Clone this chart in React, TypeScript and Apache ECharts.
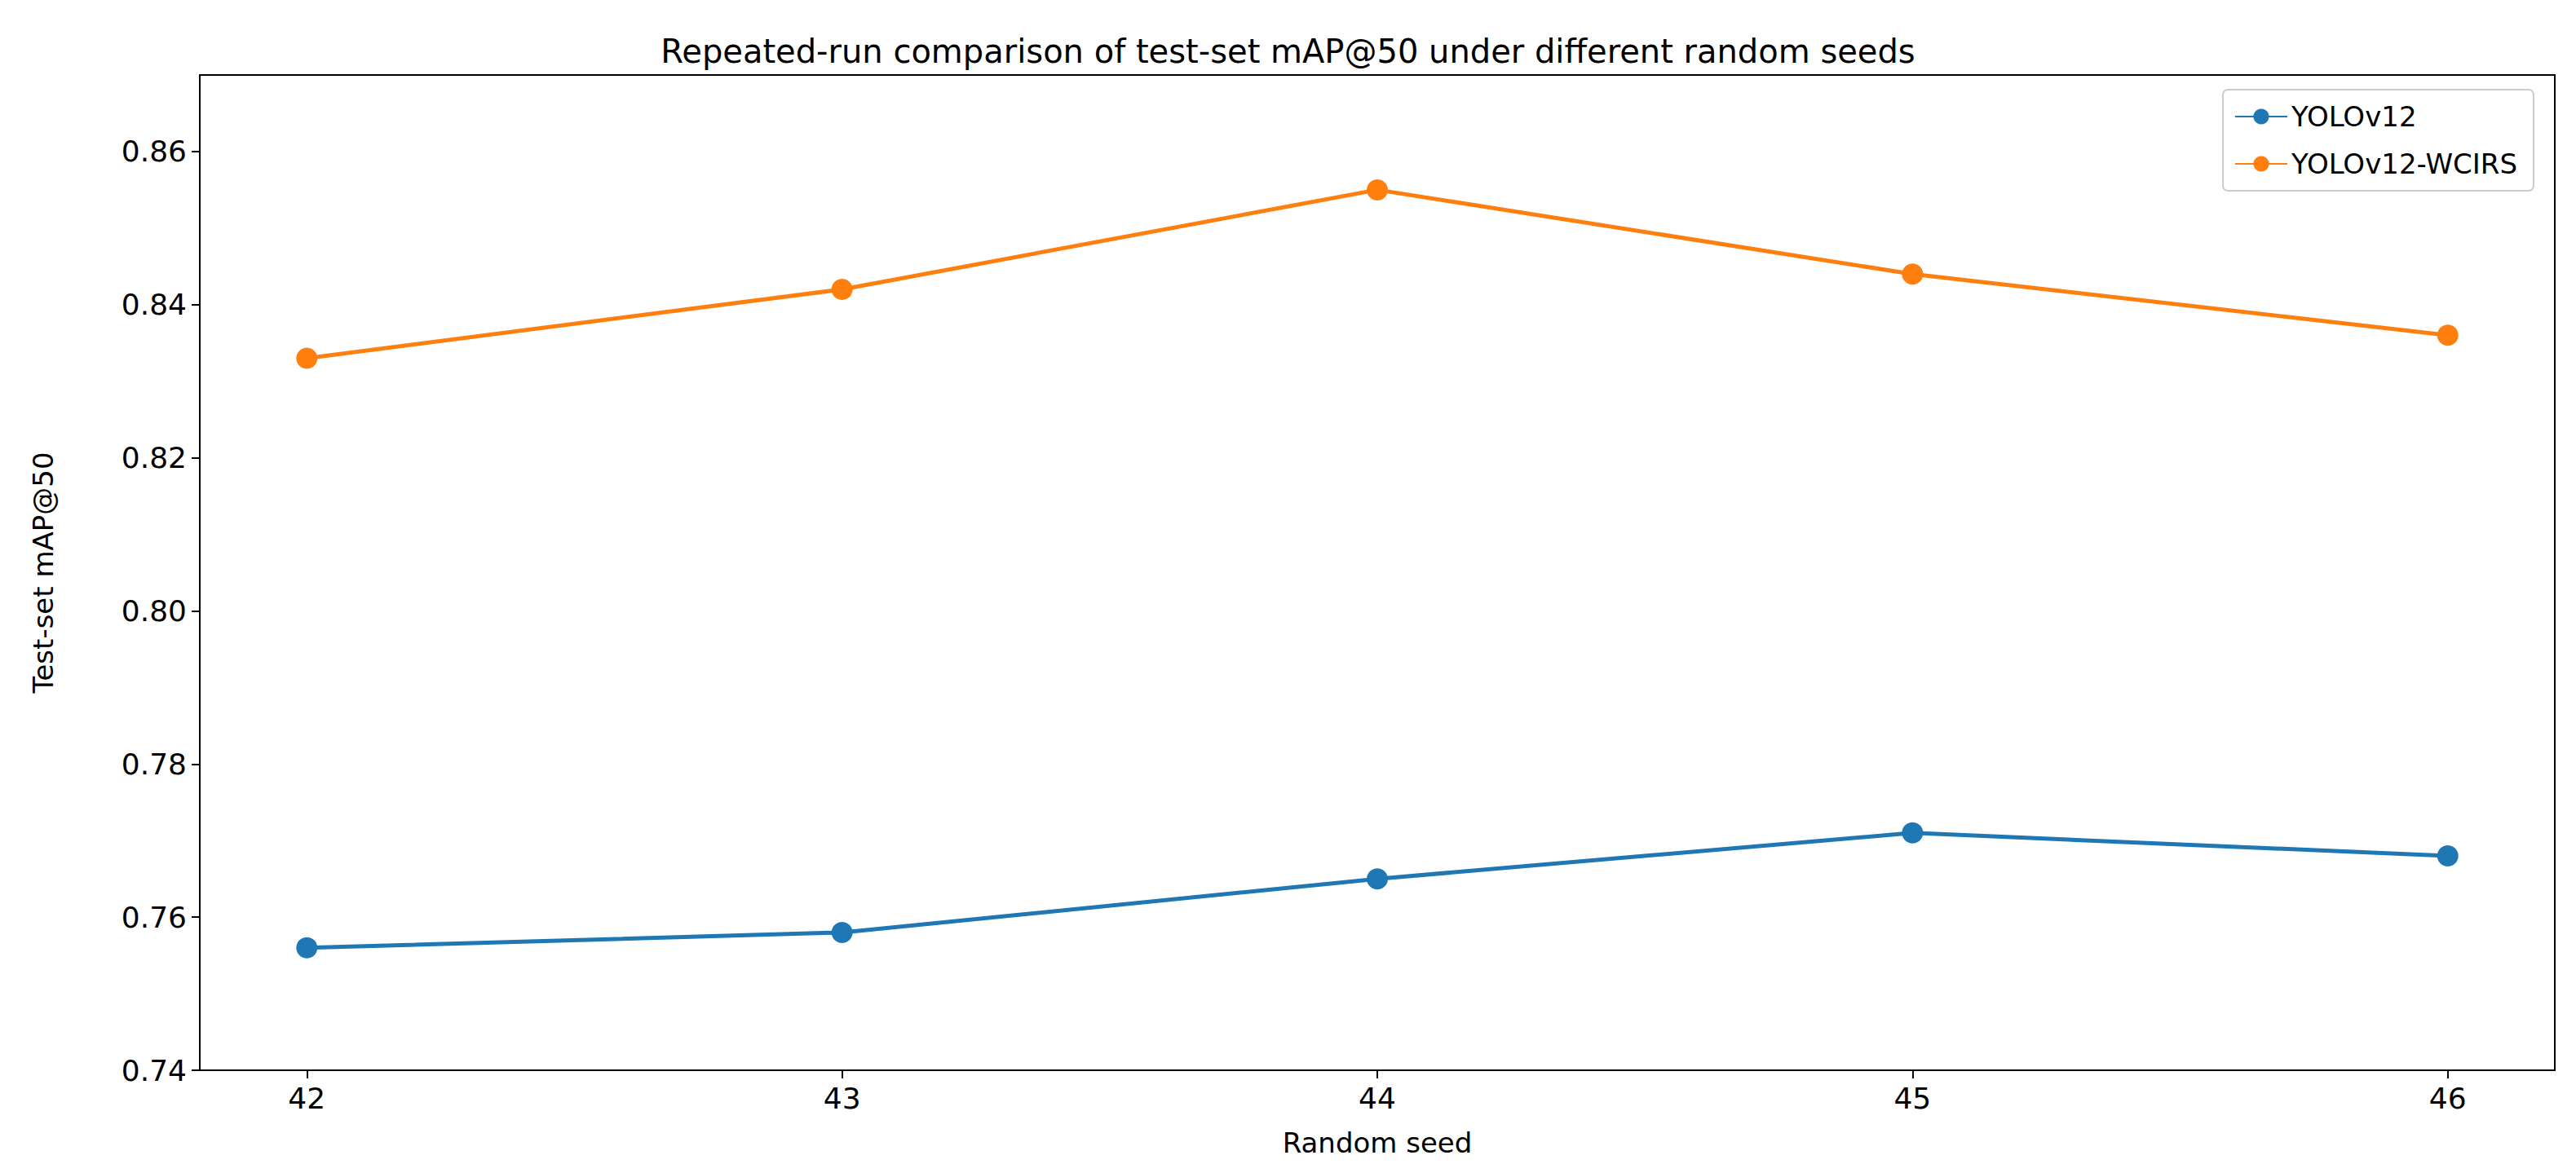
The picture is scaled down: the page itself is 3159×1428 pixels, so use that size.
import { useEffect, useRef } from "react";
import * as echarts from "echarts";

const seeds = [42, 43, 44, 45, 46];
const yolo = [0.756, 0.758, 0.765, 0.771, 0.768];
const wcirs = [0.833, 0.842, 0.855, 0.844, 0.836];
const gains = ["+0.077", "+0.084", "+0.090", "+0.073", "+0.068"];
const yTicks = [0.74, 0.76, 0.78, 0.8, 0.82, 0.84, 0.86];

const font = "DejaVu Sans";
const axisLine = { show: true, lineStyle: { color: "#000", width: 2 } };

const App = () => {
  const chartRef = useRef(null);

  useEffect(() => {
    document.body.style.margin = "0";
    if (!chartRef.current) return;
    const chart = echarts.init(chartRef.current, null, { renderer: "svg" });
    chart.setOption({
      animation: false,
      backgroundColor: "#fff",
      textStyle: { fontFamily: font },
      title: {
        text: "Repeated-run comparison of test-set mAP@50 under different random seeds",
        left: "center",
        top: 38,
        textStyle: { fontFamily: font, fontSize: 40, fontWeight: "normal", color: "#000" },
      },
      legend: {
        top: 110,
        right: 52,
        orient: "vertical",
        itemWidth: 64,
        itemHeight: 24,
        itemGap: 24,
        padding: [16, 20, 16, 14],
        borderColor: "#ccc",
        borderWidth: 2,
        borderRadius: 6,
        textStyle: { fontFamily: font, fontSize: 34, color: "#000" },
        data: ["YOLOv12", "YOLOv12-WCIRS"],
      },
      grid: { left: 245, right: 26, top: 92, bottom: 115 },
      xAxis: [
        {
          type: "value",
          min: 41.8,
          max: 46.2,
          name: "Random seed",
          nameLocation: "middle",
          nameGap: 72,
          nameTextStyle: { fontFamily: font, fontSize: 34, color: "#000" },
          splitLine: { show: false },
          axisLine,
          axisTick: { show: true, customValues: seeds, length: 10, lineStyle: { color: "#000", width: 2 } },
          axisLabel: { customValues: seeds, fontFamily: font, fontSize: 36, color: "#000", margin: 16 },
        },
        {
          type: "value",
          position: "top",
          min: 41.8,
          max: 46.2,
          splitLine: { show: false },
          axisLine,
          axisTick: { show: false },
          axisLabel: { show: false },
        },
      ],
      yAxis: [
        {
          type: "value",
          min: 0.74,
          max: 0.87,
          name: "Test-set mAP@50",
          nameLocation: "middle",
          nameGap: 175,
          nameTextStyle: { fontFamily: font, fontSize: 34, color: "#000" },
          splitLine: { show: false },
          axisLine,
          axisTick: { show: true, customValues: yTicks, length: 10, lineStyle: { color: "#000", width: 2 } },
          axisLabel: {
            customValues: yTicks,
            fontFamily: font,
            fontSize: 36,
            color: "#000",
            margin: 16,
            formatter: (v) => v.toFixed(2),
          },
        },
        {
          type: "value",
          position: "right",
          min: 0.74,
          max: 0.87,
          splitLine: { show: false },
          axisLine,
          axisTick: { show: false },
          axisLabel: { show: false },
        },
      ],
      series: [
        {
          name: "YOLOv12",
          type: "line",
          data: seeds.map((s, i) => [s, yolo[i]]),
          color: "#1f77b4",
          lineStyle: { width: 5 },
          symbol: "circle",
          symbolSize: 26,
        },
        {
          name: "YOLOv12-WCIRS",
          type: "line",
          data: seeds.map((s, i) => [s, wcirs[i]]),
          color: "#ff7f0e",
          lineStyle: { width: 5 },
          symbol: "circle",
          symbolSize: 26,
        },
        {
          name: "gain",
          type: "scatter",
          symbol: "circle",
          symbolSize: 2,
          itemStyle: { opacity: 0 },
          data: seeds.map((s, i) => ({
            value: [s, (yolo[i] + wcirs[i]) / 2],
            label: { formatter: gains[i] },
          })),
          label: {
            show: true,
            position: "top",
            distance: 20,
            fontFamily: font,
            fontSize: 32,
            color: "#000",
          },
        },
      ],
    });
    return () => chart.dispose();
  }, []);

  return <div ref={chartRef} style={{ width: 3159, height: 1428 }} />;
};

export default App;
